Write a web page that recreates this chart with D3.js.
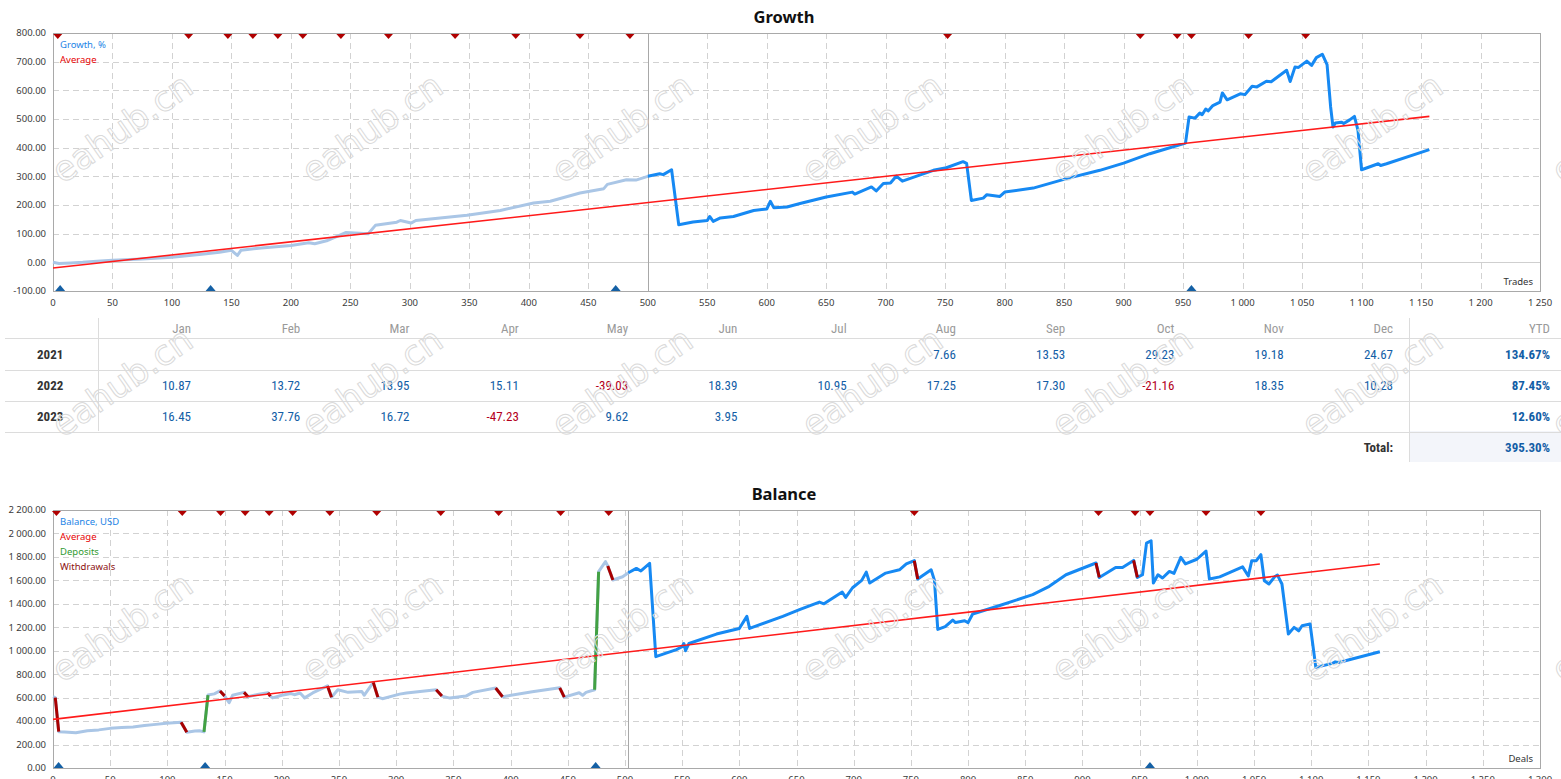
<!DOCTYPE html>
<html><head><meta charset="utf-8">
<script src="https://cdn.jsdelivr.net/npm/d3@7"></script>
<style>
html,body{margin:0;padding:0;background:#fff;}
svg{display:block;}
</style></head><body>
<svg id="chart" width="1561" height="779"></svg>
<script>
// ---------------- DATA ----------------
// Growth chart: [trade, growth %]
const growthHistory = [[0,0],[5,-4],[15,-2],[25,0],[40,5],[50,7],[75,12],[100,18],[125,28],[140,35],[150,42],[155,24],[158,42],[175,50],[200,59],[215,68],[220,65],[230,75],[246,104],[250,103],[265,100],[271,129],[289,140],[292,146],[301,137],[305,146],[348,164],[376,181],[404,207],[418,213],[443,242],[463,257],[466,272],[482,288],[490,287],[500,300]];
const growthRecent = [[500,300],[510,309],[513,306],[520,323],[526,131],[538,141],[550,146],[552,160],[555,143],[561,155],[572,160],[589,181],[600,186],[603,213],[606,190],[617,193],[628,205],[650,228],[672,245],[674,238],[688,263],[692,249],[698,275],[704,277],[709,301],[714,283],[740,321],[751,330],[765,351],[768,345],[772,216],[782,224],[785,236],[796,230],[800,245],[824,259],[852,292],[880,321],[900,346],[922,379],[936,396],[952,416],[955,507],[960,503],[964,521],[966,515],[969,535],[971,528],[975,547],[981,559],[983,591],[987,567],[998,588],[1002,585],[1008,614],[1012,612],[1020,632],[1024,630],[1037,670],[1040,631],[1044,681],[1047,680],[1054,702],[1058,687],[1062,714],[1067,726],[1071,690],[1074,542],[1076,472],[1078,486],[1083,489],[1085,484],[1090,497],[1094,509],[1097,460],[1100,323],[1114,344],[1116,338],[1121,344],[1157,393]];
const growthAverage = [[0,-20],[1157,509]];
const growthWithdrawalMarks = [4,114,147,168,189,210,242,282,338,389,443,485,752,914,945,957,1005,1053];
const growthDepositMarks = [6,132.5,473,957];
const growthSplit = 500;
const growthYTicks = [-100,0,100,200,300,400,500,600,700,800];

// Balance chart: [deal, USD, segment kind ending here: 'w' withdrawal, 'd' deposit]
const balancePoints = [[0,608],[2,600],[5,310,'w'],[10,308],[20,300],[30,318],[40,325],[50,338],[60,345],[70,350],[80,362],[90,372],[99,381],[112,390],[117,304,'w'],[124,315],[128,318],[132,308],[135.5,622,'d'],[141,632],[146,657],[150,615,'w'],[154,557],[157,620],[167,645],[170.5,608,'w'],[180,630],[188,642],[190,612,'w'],[192,598],[200,620],[208,635],[211,625],[216,640],[220,598],[227,640],[240,700],[243.5,604,'w'],[249,667],[258,645],[270,652],[272,620],[280,730],[284,604,'w'],[288,591],[303,630],[309,640],[335,667],[340,613,'w'],[347,596],[361,613],[367,645],[387,682],[393,608,'w'],[419,650],[443,684],[447,604,'w'],[460,642],[463,620],[466,645],[473.5,667],[477,1674,'d'],[483,1760],[485,1722],[489.5,1603,'w'],[498,1631],[503,1665],[510,1702],[514,1680],[521.6,1745],[527,949],[545,1010],[550,1034],[551.5,1062],[553,1000],[556,1062],[580,1142],[600,1190],[606.6,1293],[609,1190],[638,1293],[652.6,1350],[670,1415],[674,1400],[690,1500],[693,1455],[699,1537],[707,1600],[711,1670],[714,1577],[728,1662],[740,1690],[746,1740],[753,1768],[756,1611,'w'],[767.7,1690],[770.6,1600],[773.5,1182],[780,1205],[786.6,1262],[789,1240],[797,1256],[800,1240],[804,1313],[827,1384],[856.5,1478],[871,1549],[885.6,1648],[911.8,1748],[914.7,1625,'w'],[929,1710],[935,1710],[944.7,1770],[948,1625,'w'],[952.5,1648],[956,1918],[960,1938],[962,1577],[966,1648],[970,1620],[976,1676],[980,1660],[986,1796],[990,1740],[1000,1780],[1008,1850],[1011,1611],[1020,1630],[1040,1715],[1045,1637],[1048,1768],[1052,1768],[1056,1819],[1059,1597],[1063,1569],[1068,1630],[1070.5,1645],[1074.4,1569],[1080,1142],[1085,1199],[1089,1170],[1092,1213],[1099,1228],[1104,858],[1118.6,892],[1121,905],[1124,900],[1160,991]];
const balanceAverage = [[0,415],[1160,1740]];
const balanceWithdrawalMarks = [3,113,146.5,168,189,209.5,242,283,339,389.6,443.8,485.8,753,914,946,959,1008,1056];
const balanceDepositMarks = [4.9,133,474.4,959];
const balanceSplit = 503;
const balanceYTicks = [0,200,400,600,800,1000,1200,1400,1600,1800,2000,2200];

// Monthly table
const tableMonths = ['Jan','Feb','Mar','Apr','May','Jun','Jul','Aug','Sep','Oct','Nov','Dec'];
const tableYears = ['2021','2022','2023'];
const returns2021 = [null,null,null,null,null,null,null,7.66,13.53,29.23,19.18,24.67];
const returns2022 = [10.87,13.72,13.95,15.11,-39.03,18.39,10.95,17.25,17.30,-21.16,18.35,10.28];
const returns2023 = [16.45,37.76,16.72,-47.23,9.62,3.95,null,null,null,null,null,null];
const ytdReturns = [134.67,87.45,12.60];
const totalReturn = 395.30;

// ---------------- DRAWING ----------------
const loc = d3.formatLocale({decimal:'.', thousands:' ', grouping:[3], currency:['',''], minus:'-'});
const fmt2 = loc.format(',.2f');
const fmtI = loc.format(',');
const svg = d3.select('#chart');
const FONT = '"Noto Sans", "DejaVu Sans", sans-serif';
const LIGHT = '#aac6e6', DARK = '#1689f3', AVG = '#ff1a1a';

function drawChart(c){
  const g = svg.append('g');
  const x = d3.scaleLinear().domain(c.xDomain).range([53,1540]);
  const y = d3.scaleLinear().domain(c.yDomain).range([c.bottom,c.top]);
  const xt = d3.range(c.xDomain[0], c.xDomain[1]+1, 50);
  // grid
  g.selectAll('.vg').data(xt.filter(t=>t>c.xDomain[0]&&t<c.xDomain[1])).join('line')
    .attr('x1',d=>Math.round(x(d))+0.5).attr('x2',d=>Math.round(x(d))+0.5)
    .attr('y1',c.top).attr('y2',c.bottom)
    .attr('stroke','#d2d2d2').attr('stroke-dasharray','6,4');
  g.selectAll('.hg').data(c.yTicks.filter(t=>t>c.yDomain[0]&&t<c.yDomain[1])).join('line')
    .attr('x1',53).attr('x2',1540)
    .attr('y1',d=>Math.round(y(d))+0.5).attr('y2',d=>Math.round(y(d))+0.5)
    .attr('stroke',d=>d===0?'#cfcfcf':'#d2d2d2').attr('stroke-dasharray',d=>d===0?null:'6,4');
  // split line
  g.append('line').attr('x1',Math.round(x(c.split))+0.5).attr('x2',Math.round(x(c.split))+0.5)
    .attr('y1',c.top).attr('y2',c.bottom).attr('stroke','#a8a8a8');
  // border
  g.append('rect').attr('x',53.5).attr('y',c.top+0.5).attr('width',1540-53).attr('height',c.bottom-c.top)
    .attr('fill','none').attr('stroke','#a9a9a9');
  // tick labels
  g.selectAll('.yl').data(c.yTicks).join('text')
    .attr('x',46).attr('y',d=>y(d)).attr('dy','0.35em').attr('text-anchor','end')
    .attr('font-family',FONT).attr('font-size','9.5px').attr('fill','#3a3a3a').text(d=>fmt2(d));
  g.selectAll('.xl').data(xt).join('text')
    .attr('x',d=>x(d)).attr('y',c.bottom+12).attr('dy','0.35em').attr('text-anchor','middle')
    .attr('font-family',FONT).attr('font-size','9.5px').attr('fill','#3a3a3a').text(d=>fmtI(d));
  // series
  const line = d3.line().x(d=>x(d[0])).y(d=>y(d[1]));
  c.drawSeries(g,x,y,line);
  // average
  g.append('path').attr('d',line(c.average)).attr('stroke',AVG).attr('stroke-width',1.6).attr('fill','none');
  // markers
  g.selectAll('.wm').data(c.wMarks).join('path')
    .attr('d',d=>`M${x(d)-4.5},${c.top+1}L${x(d)+4.5},${c.top+1}L${x(d)},${c.top+6}Z`).attr('fill','#b00000');
  g.selectAll('.dm').data(c.dMarks).join('path')
    .attr('d',d=>`M${x(d)-5},${c.bottom}L${x(d)+5},${c.bottom}L${x(d)},${c.bottom-6}Z`).attr('fill','#1460a5');
  // legend
  c.legend.forEach((l,i)=>{
    g.append('text').attr('x',60).attr('y',c.top+15+i*15).attr('font-family',FONT).attr('font-size','9.5px')
      .attr('fill',l[1]).text(l[0]);
  });
  g.append('text').attr('x',1533).attr('y',c.bottom-6).attr('text-anchor','end').attr('font-family',FONT)
    .attr('font-size','9.5px').attr('fill','#333').text(c.axisName);
  svg.append('text').attr('x',784).attr('y',c.titleY).attr('text-anchor','middle').attr('font-family',FONT)
    .attr('font-weight','bold').attr('font-size','16.5px').attr('fill','#111').text(c.title);
}

drawChart({
  xDomain:[0,1250], yDomain:[-100,800], top:33, bottom:291, yTicks:growthYTicks, split:growthSplit,
  average:growthAverage, wMarks:growthWithdrawalMarks, dMarks:growthDepositMarks,
  legend:[['Growth, %','#1d84e6'],['Average','#e60000']], axisName:'Trades', title:'Growth', titleY:23,
  drawSeries:(g,x,y,line)=>{
    g.append('path').attr('d',line(growthHistory)).attr('stroke',LIGHT).attr('stroke-width',3).attr('fill','none').attr('stroke-linejoin','round');
    g.append('path').attr('d',line(growthRecent)).attr('stroke',DARK).attr('stroke-width',3).attr('fill','none').attr('stroke-linejoin','round');
  }
});

drawChart({
  xDomain:[0,1300], yDomain:[0,2200], top:510, bottom:768, yTicks:balanceYTicks, split:balanceSplit,
  average:balanceAverage, wMarks:balanceWithdrawalMarks, dMarks:balanceDepositMarks,
  legend:[['Balance, USD','#1d84e6'],['Average','#e60000'],['Deposits','#2f9a2f'],['Withdrawals','#8c1010']],
  axisName:'Deals', title:'Balance', titleY:500,
  drawSeries:(g,x,y,line)=>{
    const hist = balancePoints.filter(p=>p[0]<=balanceSplit);
    const rec = balancePoints.filter(p=>p[0]>=balanceSplit);
    g.append('path').attr('d',line(hist)).attr('stroke',LIGHT).attr('stroke-width',3).attr('fill','none').attr('stroke-linejoin','round');
    g.append('path').attr('d',line(rec)).attr('stroke',DARK).attr('stroke-width',3).attr('fill','none').attr('stroke-linejoin','round');
    const segs = [];
    balancePoints.forEach((p,i)=>{ if(i>0 && p[2]) segs.push([balancePoints[i-1],p,p[2]]); });
    g.selectAll('.seg').data(segs).join('line')
      .attr('x1',d=>x(d[0][0])).attr('y1',d=>y(d[0][1])).attr('x2',d=>x(d[1][0])).attr('y2',d=>y(d[1][1]))
      .attr('stroke',d=>d[2]==='w'?'#a80000':'#43a143').attr('stroke-width',3).attr('stroke-linecap','butt');
  }
});

// ---- table ----
const TFONT = '"Liberation Sans Narrow", "Roboto Condensed", "Liberation Sans", sans-serif';
const tg = svg.append('g');
const colX = d3.scaleLinear().domain([0,11]).range([191,1393]);
const rowY = d3.scaleLinear().domain([0,3]).range([354,447]);
const allReturns = [returns2021, returns2022, returns2023];
// background for total cell
tg.append('rect').attr('x',1410).attr('y',431).attr('width',151).attr('height',31).attr('fill','#f3f5fa');
// horizontal lines
[338].concat([0,1,2].map(i=>rowY(i)+15.5)).forEach(v=>{
  tg.append('line').attr('x1',5).attr('x2',1561).attr('y1',Math.round(v)+0.5).attr('y2',Math.round(v)+0.5)
    .attr('stroke','#dcdcdc').attr('stroke-width',1.2);
});
tg.append('line').attr('x1',98.5).attr('x2',98.5).attr('y1',318).attr('y2',431).attr('stroke','#dcdcdc');
tg.append('line').attr('x1',1409.5).attr('x2',1409.5).attr('y1',318).attr('y2',462).attr('stroke','#dcdcdc');
// header
tg.selectAll('.mh').data(tableMonths).join('text')
  .attr('x',(d,i)=>colX(i)).attr('y',328).attr('dy','0.35em').attr('text-anchor','end')
  .attr('font-family',TFONT).attr('font-size','13px').attr('fill','#9a9a9a').text(d=>d);
tg.append('text').attr('x',1550).attr('y',328).attr('dy','0.35em').attr('text-anchor','end')
  .attr('font-family',TFONT).attr('font-size','13px').attr('fill','#9a9a9a').text('YTD');
tableYears.forEach((yr,r)=>{
  tg.append('text').attr('x',37).attr('y',rowY(r)).attr('dy','0.35em').attr('font-family',TFONT)
    .attr('font-size','13px').attr('font-weight','bold').attr('fill','#333').text(yr);
  tg.selectAll('.v'+r).data(allReturns[r].map((v,i)=>[v,i]).filter(d=>d[0]!==null)).join('text')
    .attr('x',d=>colX(d[1])).attr('y',rowY(r)).attr('dy','0.35em').attr('text-anchor','end')
    .attr('font-family',TFONT).attr('font-size','13px')
    .attr('fill',d=>d[0]<0?'#b3001b':'#135ea6').text(d=>d3.format('.2f')(d[0]).replace('−','-'));
  tg.append('text').attr('x',1550).attr('y',rowY(r)).attr('dy','0.35em').attr('text-anchor','end')
    .attr('font-family',TFONT).attr('font-size','13px').attr('font-weight','bold').attr('fill','#135ea6')
    .text(d3.format('.2f')(ytdReturns[r])+'%');
});
tg.append('text').attr('x',1393).attr('y',rowY(3)).attr('dy','0.35em').attr('text-anchor','end')
  .attr('font-family',TFONT).attr('font-size','13px').attr('font-weight','bold').attr('fill','#333').text('Total:');
tg.append('text').attr('x',1550).attr('y',rowY(3)).attr('dy','0.35em').attr('text-anchor','end')
  .attr('font-family',TFONT).attr('font-size','13px').attr('font-weight','bold').attr('fill','#135ea6')
  .text(d3.format('.2f')(totalReturn)+'%');

// ---- watermark ----
const wmCols = d3.range(7), wmRows = [128,382,627];
const wg = svg.append('g').attr('pointer-events','none');
wmRows.forEach(cy=>wmCols.forEach(k=>{
  wg.append('text').attr('transform',`translate(${122+250*k},${cy}) rotate(-35)`)
    .attr('text-anchor','middle').attr('dy','0.35em').attr('font-family','"DejaVu Sans", sans-serif')
    .attr('font-size','35px').attr('fill','none').attr('stroke','#dadada').attr('stroke-width',1).text('eahub.cn');
}));
</script>
</body></html>
